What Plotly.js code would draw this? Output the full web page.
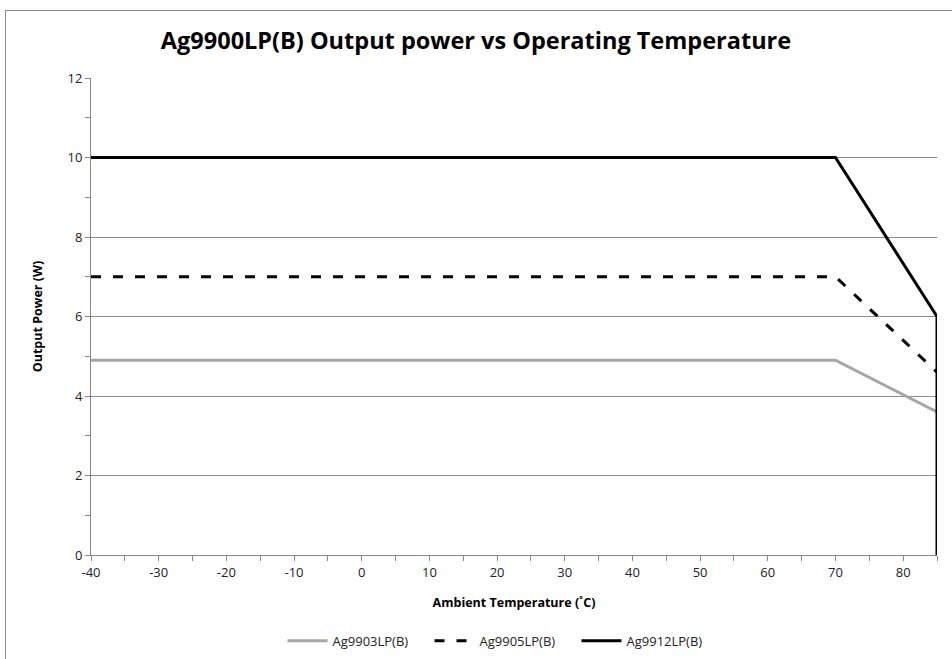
<!DOCTYPE html>
<html><head><meta charset="utf-8">
<script src="https://cdn.plot.ly/plotly-3.0.1.min.js"></script>
<style>
html,body{margin:0;padding:0;background:#fff;}
#frame{position:absolute;left:5px;top:10px;width:1000px;height:700px;border:1px solid #8c8c8c;box-sizing:border-box;}
#chart{position:absolute;left:0;top:0;width:952px;height:659px;}
</style>
</head><body>
<div id="frame"></div>
<div id="chart"></div>
<script>
const temp3 = [-40, 70, 85];
const power3 = [4.9, 4.9, 3.6];
const temp5 = [-40, 70, 85];
const power5 = [7, 7, 4.6];
const temp12 = [-40, 70, 85, 85];
const power12 = [10, 10, 6, 0];
const names = ["Ag9903LP(B)", "Ag9905LP(B)", "Ag9912LP(B)"];
const xTicks = [-40,-30,-20,-10,0,10,20,30,40,50,60,70,80];
const yTicks = [0,2,4,6,8,10,12];

const traces = [
  {x: temp3, y: power3, name: names[0], mode:'lines', line:{color:'#a6a6a6', width:3}},
  {x: temp5, y: power5, name: names[1], mode:'lines', line:{color:'#000', width:3, dash:'10px,12px'}},
  {x: temp12, y: power12, name: names[2], mode:'lines', line:{color:'#000', width:3}}
];
const fontFam = '"Open Sans", "Noto Sans", sans-serif';
const layout = {
  width:952, height:659,
  paper_bgcolor:'rgba(0,0,0,0)', plot_bgcolor:'rgba(0,0,0,0)',
  margin:{l:91, r:15, t:78, b:104, autoexpand:false},
  title:{text:'<b>Ag9900LP(B) Output power vs Operating Temperature</b>', x:0.5, xanchor:'center', y:0.938, yanchor:'middle', font:{family:fontFam, size:23.5, color:'#000'}},
  font:{family:fontFam, size:12, color:'#222'},
  showlegend:true,
  legend:{orientation:'h', x:0.487, xanchor:'center', y:-0.18, yanchor:'middle', font:{size:13, color:'#222'}, traceorder:'normal', itemwidth:40, entrywidth:92, entrywidthmode:'pixels'},
  xaxis:{range:[-40,85], tickvals:xTicks, ticktext:xTicks.map(String), ticks:'outside', ticklen:5, tickcolor:'#888', showgrid:false, zeroline:false,
    showline:true, linecolor:'#888', linewidth:1,
    minor:{dtick:5, tick0:-40, ticks:'outside', ticklen:5, tickcolor:'#888', showgrid:false},
    title:{text:'<b>Ambient Temperature (˚C)</b>', font:{size:12.5, color:'#000'}, standoff:18},
    tickfont:{size:13, color:'#222'}},
  yaxis:{range:[0,12], tickvals:yTicks, ticktext:yTicks.map(String), ticks:'outside', ticklen:5, tickcolor:'#888', showgrid:true, gridcolor:'#8c8c8c', gridwidth:1, zeroline:false,
    showline:true, linecolor:'#888', linewidth:1,
    minor:{dtick:1, ticks:'outside', ticklen:5, tickcolor:'#888', showgrid:false},
    title:{text:'<b>Output Power (W)</b>', font:{size:12.5, color:'#000'}, standoff:22},
    tickfont:{size:13, color:'#222'}}
};
Plotly.newPlot('chart', traces, layout, {displayModeBar:false, staticPlot:true});
</script>
</body></html>
